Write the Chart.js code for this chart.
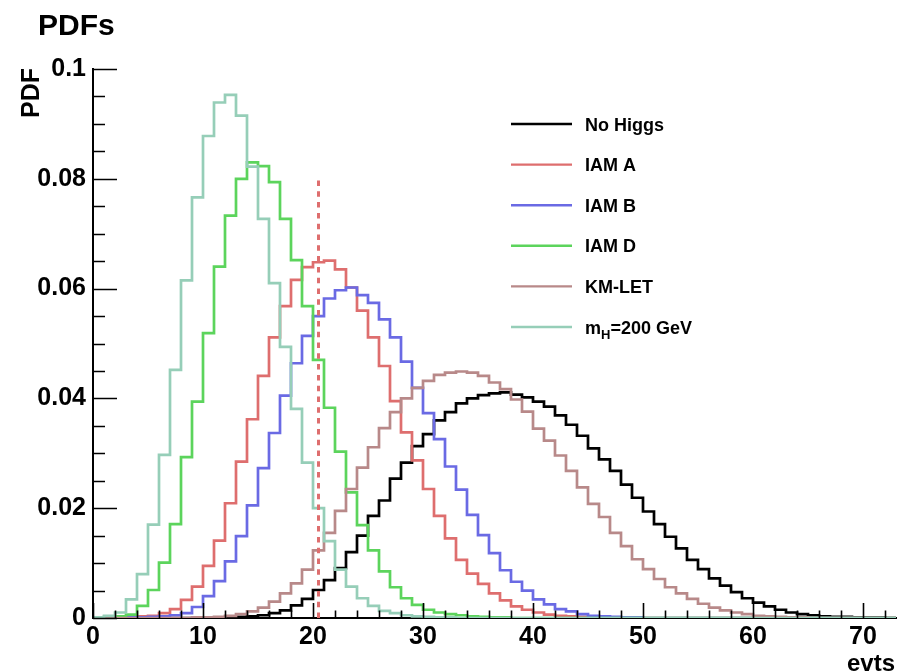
<!DOCTYPE html>
<html>
<head>
<meta charset="utf-8">
<script src="https://cdn.jsdelivr.net/npm/chart.js@4.4.1/dist/chart.umd.min.js"></script>
<style>
html,body{margin:0;padding:0;background:#ffffff;}
canvas{display:block;}
</style>
</head>
<body>
<canvas id="c" width="899" height="672"></canvas>
<script>
// ---- Data (bin contents, bins of width 1 starting at 0) ----
const chartTitle = "PDFs";
const xAxisTitle = "evts";
const yAxisTitle = "PDF";
const xMin = 0, xMax = 73;
const yMin = 0, yMax = 0.1;
const xTickValues = [0, 10, 20, 30, 40, 50, 60, 70];
const xTickLabels = ["0", "10", "20", "30", "40", "50", "60", "70"];
const yTickValues = [0, 0.02, 0.04, 0.06, 0.08, 0.1];
const yTickLabels = ["0", "0.02", "0.04", "0.06", "0.08", "0.1"];

const seriesNames = ["No Higgs", "IAM A", "IAM B", "IAM D", "KM-LET", "m_H=200 GeV"];

const noHiggs = [
  0,0,0,0,0,0,0,0,0,0,
  0,0.0001,0.0001,0.0002,0.0003,0.0005,0.0009,0.0014,0.0023,0.0035,
  0.0051,0.0069,0.0091,0.0120,0.0150,0.0186,0.0214,0.0254,0.0283,0.0313,
  0.0335,0.0360,0.0375,0.0391,0.0400,0.0406,0.0409,0.0411,0.0407,0.0402,
  0.0394,0.0385,0.0369,0.0352,0.0332,0.0309,0.0289,0.0268,0.0243,0.0219,
  0.0194,0.0171,0.0148,0.0127,0.0106,0.0089,0.0072,0.0059,0.0047,0.0036,
  0.0028,0.0021,0.0015,0.0010,0.0007,0.0005,0.0003,0.0002,0.0002,0.0001,
  0.0001,0.0001,0
];
const iamA = [
  0,0,0.0001,0.0002,0.0003,0.0004,0.0009,0.0016,0.0033,0.0057,
  0.0095,0.0141,0.0209,0.0285,0.0362,0.0441,0.0511,0.0568,0.0616,0.0639,
  0.0648,0.0651,0.0635,0.0602,0.0560,0.0511,0.0459,0.0395,0.0338,0.0287,
  0.0235,0.0186,0.0145,0.0106,0.0081,0.0062,0.0045,0.0032,0.0021,0.0015,
  0.0010,0.0006,0.0004,0.0003,0.0002,0.0001,0.0001,0,0,0,
  0,0,0,0,0,0,0,0,0,0,
  0,0,0,0,0,0,0,0,0,0,
  0,0,0
];
const iamB = [
  0,0,0,0.0001,0.0001,0.0002,0.0003,0.0005,0.0009,0.0020,
  0.0040,0.0067,0.0103,0.0149,0.0205,0.0273,0.0337,0.0405,0.0464,0.0514,
  0.0550,0.0582,0.0597,0.0602,0.0588,0.0574,0.0544,0.0511,0.0467,0.0419,
  0.0373,0.0326,0.0276,0.0234,0.0188,0.0151,0.0118,0.0087,0.0066,0.0050,
  0.0034,0.0025,0.0016,0.0012,0.0007,0.0004,0.0003,0.0002,0.0001,0.0001,
  0,0,0,0,0,0,0,0,0,0,
  0,0,0,0,0,0,0,0,0,0,
  0,0,0
];
const iamD = [
  0.0001,0.0002,0.0003,0.0006,0.0022,0.0051,0.0101,0.0171,0.0293,0.0394,
  0.0519,0.0640,0.0733,0.0800,0.0830,0.0823,0.0794,0.0727,0.0652,0.0568,
  0.0470,0.0383,0.0303,0.0229,0.0169,0.0123,0.0085,0.0056,0.0036,0.0024,
  0.0015,0.0010,0.0007,0.0005,0.0003,0.0002,0.0001,0.0001,0,0,
  0,0,0,0,0,0,0,0,0,0,
  0,0,0,0,0,0,0,0,0,0,
  0,0,0,0,0,0,0,0,0,0,
  0,0,0
];
const kmLet = [
  0,0,0,0,0,0,0,0,0,0.0001,
  0.0001,0.0002,0.0004,0.0007,0.0012,0.0019,0.0030,0.0045,0.0063,0.0088,
  0.0123,0.0155,0.0195,0.0235,0.0274,0.0311,0.0346,0.0375,0.0400,0.0419,
  0.0432,0.0443,0.0447,0.0449,0.0447,0.0441,0.0429,0.0417,0.0398,0.0376,
  0.0345,0.0323,0.0296,0.0268,0.0238,0.0208,0.0184,0.0155,0.0131,0.0107,
  0.0089,0.0071,0.0056,0.0045,0.0035,0.0026,0.0019,0.0014,0.0010,0.0007,
  0.0004,0.0003,0.0002,0.0001,0.0001,0,0,0,0,0,
  0,0,0
];
const mH200 = [
  0.0001,0.0004,0.0010,0.0034,0.0080,0.0170,0.0297,0.0452,0.0615,0.0766,
  0.0878,0.0939,0.0953,0.0915,0.0822,0.0727,0.0610,0.0494,0.0381,0.0283,
  0.0200,0.0140,0.0088,0.0057,0.0036,0.0022,0.0013,0.0009,0.0005,0.0003,
  0.0002,0.0001,0.0001,0,0,0,0,0,0,0,
  0,0,0,0,0,0,0,0,0,0,
  0,0,0,0,0,0,0,0,0,0,
  0,0,0,0,0,0,0,0,0,0,
  0,0,0
];

// vertical dashed cut line
const cutX = [20.5, 20.5];
const cutY = [0, 0.08];

// ---- Styles ----
const seriesColors = ["#000000", "rgb(222,110,110)", "rgb(106,106,228)", "rgb(92,212,92)", "rgb(184,137,137)", "rgb(150,206,184)"];
const FONT = '"Liberation Sans", Arial, Helvetica, sans-serif';

function histPoints(vals) {
  const pts = vals.map((v, i) => ({x: i, y: v}));
  pts.push({x: vals.length, y: vals[vals.length - 1]});
  return pts;
}

const allSeries = [noHiggs, iamA, iamB, iamD, kmLet, mH200];
const datasets = allSeries.map((vals, i) => ({
  label: seriesNames[i],
  data: histPoints(vals),
  borderColor: seriesColors[i],
  borderWidth: 2.7,
  stepped: 'before',
  pointRadius: 0,
  fill: false,
  tension: 0,
  borderJoinStyle: 'miter',
  borderCapStyle: 'butt',
  order: 6 - i
}));
datasets.push({
  label: 'cut',
  data: cutX.map((x, i) => ({x: x, y: cutY[i]})),
  borderColor: "rgb(222,110,110)",
  borderWidth: 3,
  borderDash: [5.5, 5.3],
  pointRadius: 0,
  fill: false,
  order: 0,
  isCut: true
});

const decorPlugin = {
  id: 'rootDecor',
  afterDraw(chart) {
    const ctx = chart.ctx;
    const {left, right, top, bottom} = chart.chartArea;
    const xs = chart.scales.x, ys = chart.scales.y;
    ctx.save();
    // inner ticks
    ctx.strokeStyle = '#000';
    ctx.lineWidth = 1.6;
    ctx.beginPath();
    for (let v = xMin; v <= xMax; v += 2) {
      const px = Math.round(xs.getPixelForValue(v)) + 0.5;
      const len = (v % 10 === 0) ? 15 : 7.5;
      ctx.moveTo(px, bottom);
      ctx.lineTo(px, bottom - len);
    }
    for (let i = 0; i <= 20; i++) {
      const v = i * 0.005;
      const py = Math.round(ys.getPixelForValue(v)) + 0.5;
      const len = (i % 4 === 0) ? 24 : 12;
      ctx.moveTo(left, py);
      ctx.lineTo(left + len, py);
    }
    ctx.stroke();

    // titles
    ctx.fillStyle = '#000';
    ctx.font = 'bold 30px ' + FONT;
    ctx.textAlign = 'left';
    ctx.textBaseline = 'alphabetic';
    ctx.fillText(chartTitle, 38, 35);

    ctx.font = 'bold 25px ' + FONT;
    ctx.save();
    ctx.translate(39, top - 1);
    ctx.rotate(-Math.PI / 2);
    ctx.textAlign = 'right';
    ctx.fillText(yAxisTitle, 0, 0);
    ctx.restore();

    ctx.font = 'bold 24px ' + FONT;
    ctx.textAlign = 'right';
    ctx.fillText(xAxisTitle, right - 1, 671);

    // legend
    const rows = chart.data.datasets.filter(d => !d.isCut);
    rows.forEach((d, i) => {
      const y = 124 + i * 40.6;
      ctx.strokeStyle = d.borderColor;
      ctx.lineWidth = 2.4;
      ctx.beginPath();
      ctx.moveTo(511, y);
      ctx.lineTo(572, y);
      ctx.stroke();
      ctx.fillStyle = '#000';
      ctx.textAlign = 'left';
      ctx.textBaseline = 'alphabetic';
      const label = d.label;
      const base = y + 6.5;
      const us = label.indexOf('_');
      if (us >= 0) {
        const pre = label.slice(0, us);
        const sub = label.charAt(us + 1);
        const post = label.slice(us + 2);
        ctx.font = 'bold 18px ' + FONT;
        ctx.fillText(pre, 585, base);
        let x = 585 + ctx.measureText(pre).width;
        ctx.font = 'bold 13px ' + FONT;
        ctx.fillText(sub, x, base + 5);
        x += ctx.measureText(sub).width;
        ctx.font = 'bold 18px ' + FONT;
        ctx.fillText(post, x, base);
      } else {
        ctx.font = 'bold 18px ' + FONT;
        ctx.fillText(label, 585, base);
      }
    });
    ctx.restore();
  }
};

new Chart(document.getElementById('c'), {
  type: 'line',
  data: {datasets: datasets},
  options: {
    responsive: false,
    animation: false,
    events: [],
    layout: {padding: {top: 69, right: 3, bottom: 0, left: 0}},
    plugins: {legend: {display: false}, tooltip: {enabled: false}, title: {display: false}},
    scales: {
      x: {
        type: 'linear',
        min: xMin, max: xMax,
        grid: {display: false, drawTicks: false},
        border: {display: true, color: '#000', width: 2},
        afterBuildTicks: (s) => { s.ticks = xTickValues.map(v => ({value: v})); },
        afterFit: (s) => { s.height = 54; },
        ticks: {
          padding: 4,
          color: '#000',
          maxRotation: 0,
          autoSkip: false,
          font: {family: FONT, weight: 'bold', size: 25},
          callback: (v) => { const k = xTickValues.indexOf(v); return k >= 0 ? xTickLabels[k] : ''; }
        }
      },
      y: {
        type: 'linear',
        min: yMin, max: yMax,
        grid: {display: false, drawTicks: false},
        border: {display: true, color: '#000', width: 2},
        afterBuildTicks: (s) => { s.ticks = yTickValues.map(v => ({value: v})); },
        afterFit: (s) => { s.width = 93; },
        ticks: {
          padding: 7,
          color: '#000',
          autoSkip: false,
          font: {family: FONT, weight: 'bold', size: 25},
          callback: (v) => {
            let k = -1;
            yTickValues.forEach((t, i) => { if (Math.abs(t - v) < 1e-9) k = i; });
            return k >= 0 ? yTickLabels[k] : '';
          }
        }
      }
    }
  },
  plugins: [decorPlugin]
});
</script>
</body>
</html>
